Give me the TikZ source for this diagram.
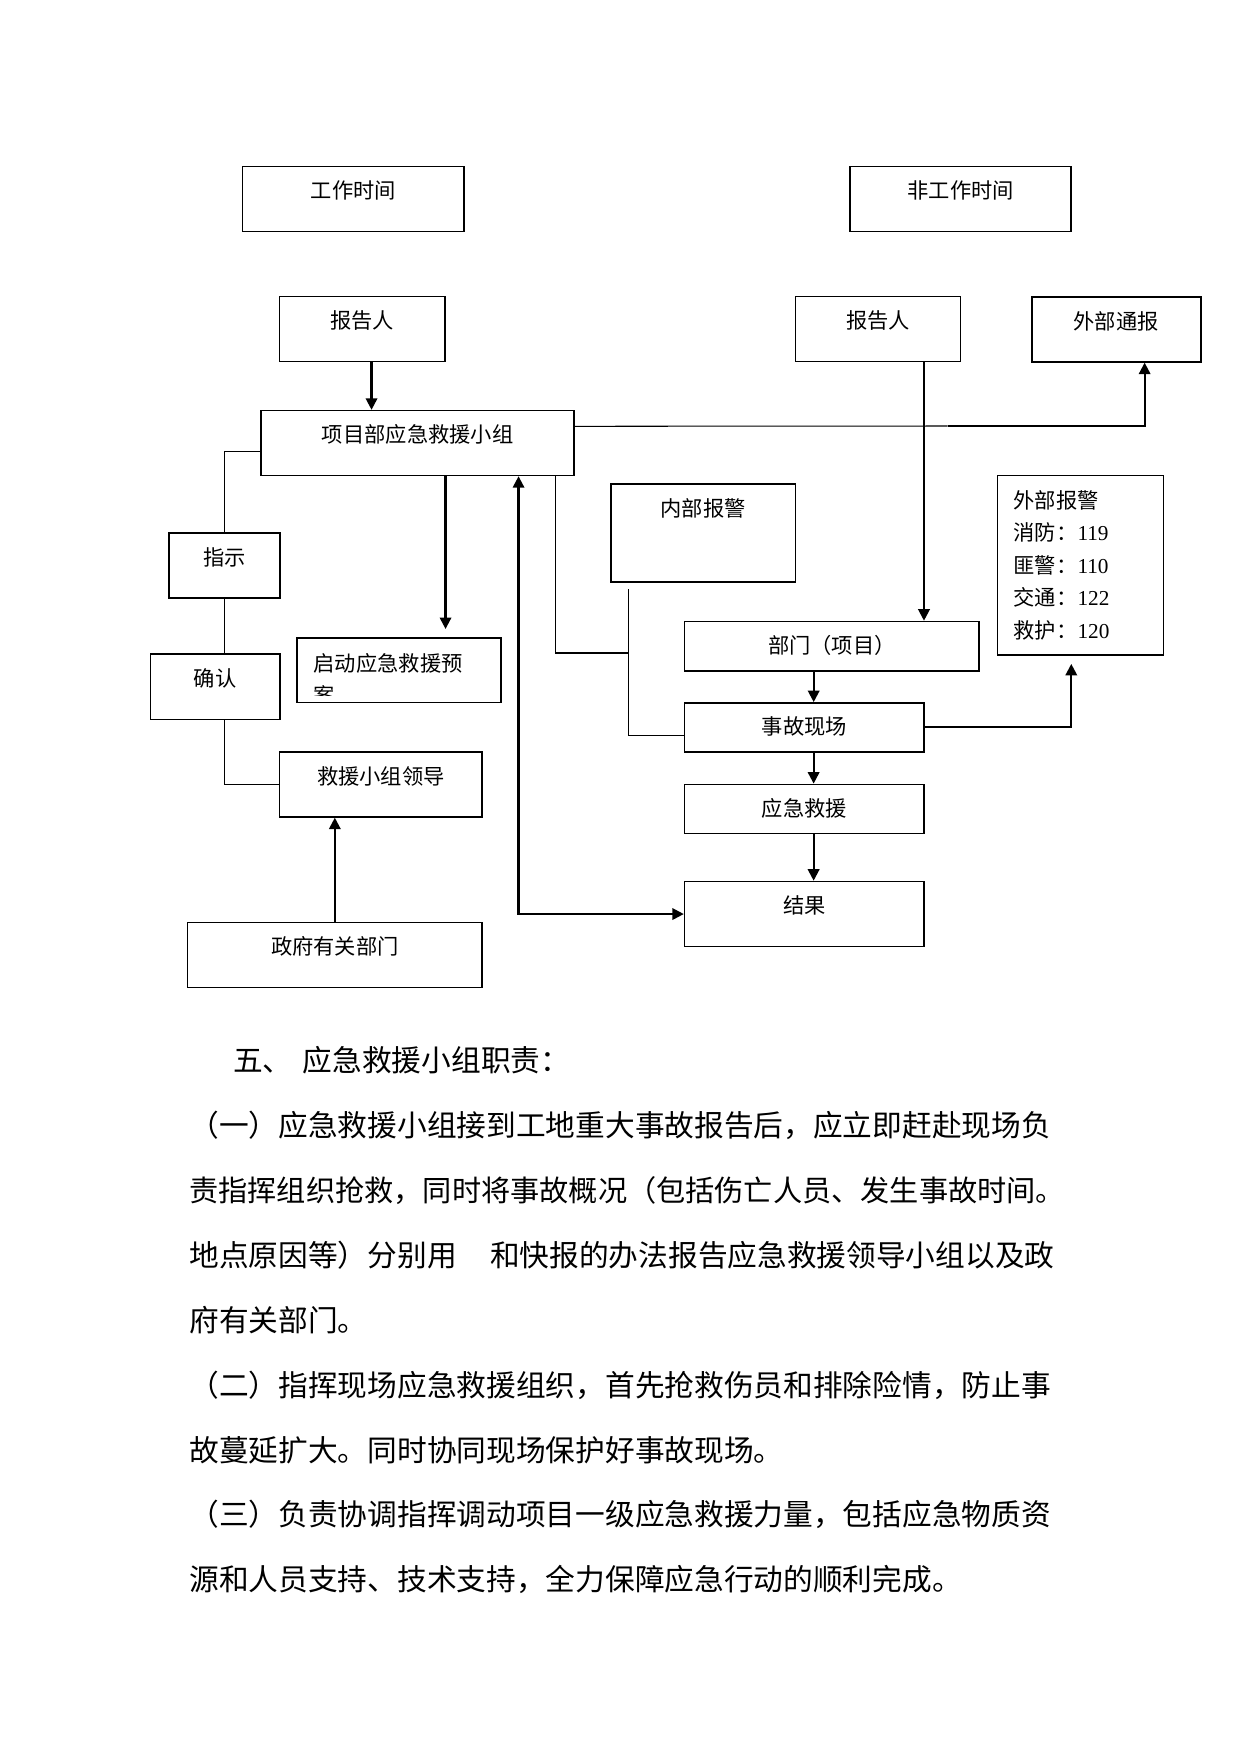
\documentclass[tikz,border=0pt]{standalone}
\usepackage{fontspec}
\setmainfont{Noto Sans CJK SC}
\newfontfamily\lat{Liberation Serif}
\usetikzlibrary{arrows.meta}
\def\px{0.4797pt}
\tikzset{
  box/.style = {draw, line width=0.8pt, inner sep=0pt, anchor=north west},
  tag/.style = {font=\fontsize{10.2pt}{12pt}\selectfont, inner sep=0pt, text height=9pt, text depth=1.2pt},
  duty/.style = {font=\fontsize{14.25pt}{17pt}\selectfont, inner sep=0pt, anchor=west, text height=12.5pt, text depth=1.7pt},
  wire/.style = {line width=0.5pt},
  link/.style = {line width=1pt, ->}
}
\tikzset{>={Triangle[length=5.5pt,width=5.5pt]}}

\begin{document}
\begin{tikzpicture}[x=\px,y=-\px]
  \useasboundingbox (0,0) rectangle (1241,1754);
  % time boxes
  \node[box,minimum width=221.6*\px,minimum height=65*\px] (work) at (241.7,165.7) {};
  \node[box,minimum width=221.1*\px,minimum height=65*\px] (offwork) at (849.3,165.7) {};
  \node[tag] (work-t) at ([yshift=-25*\px]work.north) {工作时间};
  \node[tag] (offwork-t) at ([yshift=-25*\px]offwork.north) {非工作时间};
  % reporters
  \node[box,minimum width=165.6*\px,minimum height=65*\px] (rpl) at (278.7,295.7) {};
  \node[box,minimum width=165.1*\px,minimum height=65*\px] (rpr) at (794.6,295.7) {};
  \node[box,minimum width=169*\px,minimum height=64.7*\px] (wbtb) at (1030.9,296.3) {};
  \node[tag] (rpl-t) at ([yshift=-25*\px]rpl.north) {报告人};
  \node[tag] (rpr-t) at ([yshift=-25*\px]rpr.north) {报告人};
  \node[tag] (wbtb-t) at ([yshift=-25*\px]wbtb.north) {外部通报};
  % rescue group
  \node[box,minimum width=313*\px,minimum height=64.8*\px] (xmzb) at (260.3,409.8) {};
  \node[tag] (xmzb-t) at ([yshift=-25*\px]xmzb.north) {项目部应急救援小组};
  \node[box,minimum width=184.6*\px,minimum height=97.8*\px] (nbbj) at (610,483.2) {};
  \node[tag] (nbbj-t) at ([yshift=-25*\px]nbbj.north) {内部报警};
  \node[box,minimum width=165.9*\px,minimum height=179.3*\px] (wbbj) at (996.6,474.6) {};
  \foreach \t [count=\i] in {外部报警, 消防：{\lat 119}, 匪警：{\lat 110}, 交通：{\lat 122}, 救护：{\lat 120}} {
    \node[tag,anchor=west] (wbbj-\i) at (1013.3,{500+32.5*(\i-1)}) {\t};
  }
  % left chain
  \node[box,minimum width=110.7*\px,minimum height=65.1*\px] (zs) at (168.3,532) {};
  \node[tag] (zs-t) at ([yshift=-25*\px]zs.north) {指示};
  \node[box,minimum width=129.3*\px,minimum height=65.5*\px] (qr) at (149.7,653.3) {};
  \node[tag] (qr-t) at ([yshift=-25*\px]qr.north) {确认};
  \node[box,minimum width=202.6*\px,minimum height=65.1*\px] (ld) at (278.7,750.9) {};
  \node[tag] (ld-t) at ([yshift=-25*\px]ld.north) {救援小组领导};
  \node[box,minimum width=294.6*\px,minimum height=65.1*\px] (zf) at (186.7,921.6) {};
  \node[tag] (zf-t) at ([yshift=-25*\px]zf.north) {政府有关部门};
  \node[box,minimum width=204*\px,minimum height=64.5*\px] (qd) at (296.4,637.3) {};
  \begin{scope}
    \clip (qd.north west) rectangle ([yshift=8*\px]qd.south east);
    \node[tag,anchor=west] (qd-t) at (313.3,663.3) {启动应急救援预};
    \node[tag,anchor=west] (qd-t2) at (313.3,695.5) {案};
  \end{scope}
  % site chain
  \node[box,minimum width=294.5*\px,minimum height=49.3*\px] (bm) at (683.8,620.7) {};
  \node[tag] (bm-t) at ([yshift=-25*\px]bm.north) {部门（项目）};
  \node[box,minimum width=239.4*\px,minimum height=48.9*\px] (sg) at (683.8,702.1) {};
  \node[tag] (sg-t) at ([yshift=-24.5*\px]sg.north) {事故现场};
  \node[box,minimum width=239.4*\px,minimum height=48.9*\px] (yj) at (683.8,783.6) {};
  \node[tag] (yj-t) at ([yshift=-24.5*\px]yj.north) {应急救援};
  \node[box,minimum width=239.4*\px,minimum height=65*\px] (jg) at (683.8,880.7) {};
  \node[tag] (jg-t) at ([yshift=-25*\px]jg.north) {结果};
  % connectors
  \coordinate (split) at (947.5,426);
  \coordinate (nbtail) at (628.6,589);
  \coordinate (joint) at (628.6,653.3);
  \draw[link] ([xshift=9.2*\px]rpl.south) -- ([xshift=9.2*\px]rpl.south |- xmzb.north);
  \draw[wire] ([yshift=-16.5*\px]xmzb.north east) -- (split);
  \draw[link] (split) -| ([xshift=28.4*\px]wbtb.south);
  \draw[link,shorten >=4pt] ([xshift=27.9*\px]xmzb.south) -- ([xshift=27.9*\px]xmzb.south |- qd.north);
  \draw[link,<->] ([xshift=100.9*\px]xmzb.south) |- (jg.west);
  \draw[line width=0.8pt] ([xshift=137.9*\px]xmzb.south) |- (joint);
  \draw[wire] (nbtail) |- ([yshift=-8.5*\px]sg.west);
  \draw[link] ([xshift=46*\px]rpr.south) -- ([xshift=46*\px]rpr.south |- bm.north);
  \draw[link] ([xshift=-18.2*\px]bm.south) -- ([xshift=-18.2*\px]bm.south |- sg.north);
  \draw[link] ([xshift=9.3*\px]sg.south) -- ([xshift=9.3*\px]sg.south |- yj.north);
  \draw[link] ([xshift=9.3*\px]yj.south) -- ([xshift=9.3*\px]yj.south |- jg.north);
  \draw[link,shorten >=4pt] (sg.east) -| ([xshift=-9.1*\px]wbbj.south);
  \draw[link] (zf.north) -- (zf.north |- ld.south);
  \draw[wire] ([yshift=24.5*\px]xmzb.south west) -| (zs.north);
  \draw[wire] (zs.south) -- (zs.south |- qr.north);
  \draw[wire] (zs.south |- qr.south) |- (ld.west);
  % duties
  \node[duty] (duty-0) at (232.6,1060.4) {五、\hspace{5pt}应急救援小组职责：};
  \foreach \l [count=\i] in {
    {（一）应急救援小组接到工地重大事故报告后，应立即赶赴现场负},
    {\fontsize{14pt}{17pt}\selectfont 责指挥组织抢救，同时将事故概况（包括伤亡人员、发生事故时间。},
    {地点原因等）分别用\hspace{16pt}和快报的办法报告应急救援领导小组以及政},
    {府有关部门。},
    {（二）指挥现场应急救援组织，首先抢救伤员和排除险情，防止事},
    {故蔓延扩大。同时协同现场保护好事故现场。},
    {（三）负责协调指挥调动项目一级应急救援力量，包括应急物质资},
    {源和人员支持、技术支持，全力保障应急行动的顺利完成。}} {
    \node[duty] (duty-\i) at (189,{1125.3+64.9*(\i-1)}) {\l};
  }
\end{tikzpicture}
\end{document}
